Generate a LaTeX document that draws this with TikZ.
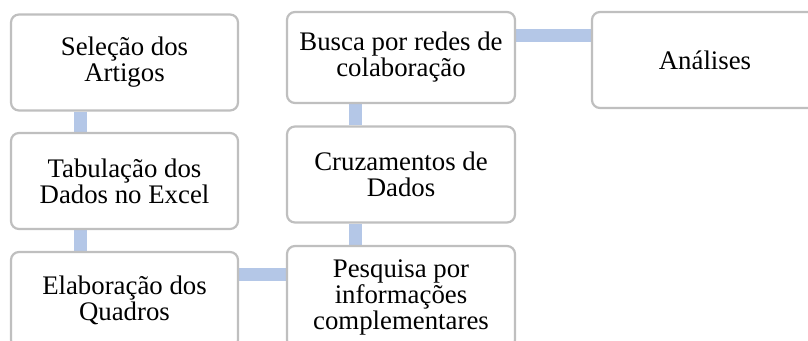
\documentclass[tikz,border=0pt]{standalone}
\usepackage{fontspec}
\setmainfont{Liberation Serif}
\usetikzlibrary{backgrounds}
\definecolor{boxgray}{HTML}{BFBFBF}
\definecolor{linkblue}{HTML}{B4C7E7}

\begin{document}
\begin{tikzpicture}[
    x=1pt, y=-1pt,
    stage/.style={rectangle, draw=boxgray, fill=white, line width=2.2pt, rounded corners=8pt,
      inner sep=0pt, minimum width=227pt, minimum height=96pt, align=center,
      font=\fontsize{26.8}{26}\selectfont},
    link/.style={draw=linkblue, line width=13pt}
  ]
    \clip (0,0) rectangle (808,340);
    % first column
    \node[stage] (sel) at (124.5,62.5) {Seleção dos\\Artigos};
    \node[stage] (tab) at (124.5,181)  {Tabulação dos\\Dados no Excel};
    \node[stage] (ela) at (124.5,300)  {Elaboração dos\\Quadros};
    % second column
    \node[stage, minimum width=228pt, minimum height=91pt] (bus) at (401,57.5) {Busca por redes de\\colaboração};
    \node[stage, minimum width=228pt] (cru) at (401,174.5) {Cruzamentos de\\Dados};
    \node[stage, minimum width=228pt, minimum height=102pt] (pes) at (401,297) {Pesquisa por\\informações\\complementares};
    % last step
    \node[stage, minimum width=226pt] (ana) at (705,60) {Análises};
    % connectors behind the boxes
    \begin{scope}[on background layer]
      \draw[link] ([xshift=-44.5pt]sel.south) -- ([xshift=-44.5pt]tab.north);
      \draw[link] ([xshift=-44.5pt]tab.south) -- ([xshift=-44.5pt]ela.north);
      \draw[link] ([yshift=25.5pt]ela.east) -- ([yshift=25.5pt]ela.east -| pes.west);
      \draw[link] ([xshift=-46pt]pes.north) -- ([xshift=-46pt]cru.south);
      \draw[link] ([xshift=-46pt]cru.north) -- ([xshift=-46pt]bus.south);
      \draw[link] ([yshift=22pt]bus.east) -- ([yshift=22pt]bus.east -| ana.west);
    \end{scope}
  \end{tikzpicture}
\end{document}
